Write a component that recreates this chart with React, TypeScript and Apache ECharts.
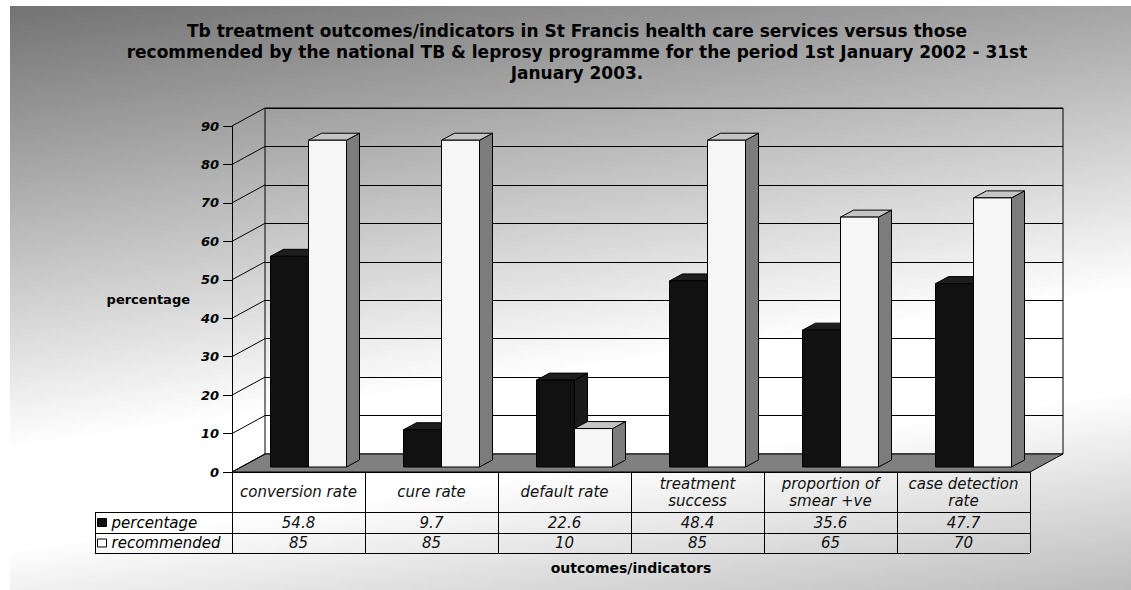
import React, { useEffect, useRef } from "react";
import * as echarts from "echarts";

// ---------- data ----------
const titleLines = [
  "Tb treatment outcomes/indicators in St Francis health care services versus those",
  "recommended by the national TB & leprosy programme for the period 1st January 2002 - 31st",
  "January 2003.",
];
const categories = [
  "conversion rate",
  "cure rate",
  "default rate",
  "treatment\nsuccess",
  "proportion of\nsmear +ve",
  "case detection\nrate",
];
const seriesNames = ["percentage", "recommended"];
const percentage = [54.8, 9.7, 22.6, 48.4, 35.6, 47.7];
const recommended = [85, 85, 10, 85, 65, 70];
const yTicks = [0, 10, 20, 30, 40, 50, 60, 70, 80, 90];
const yAxisTitle = "percentage";
const xAxisTitle = "outcomes/indicators";

// ---------- layout / style ----------
const FONT = "DejaVu Sans";
const W = 1131;
const H = 590;
const FRONT = { left: 232, right: 1030, top: 126, bottom: 472 };
const WALL = { dx: 33, dy: -18 };
const BAR_PLANE = { dx: 10, dy: -5 };
const BAR_DEPTH = { dx: 13, dy: -7 };
const BAR_FRAC = 38 / 133;
const ROWS = [472, 512, 533, 553];
const LEGEND_LEFT = 95;

const BAR_COLORS = [
  { front: "#111111", top: "#1e1e1e", side: "#1a1a1a" },
  { front: "#f6f6f6", top: "#c4c4c4", side: "#7c7c7c" },
];

function frameRender(params: any, api: any) {
  const v = api.value(1);
  const p = api.coord([0, v]);
  const band = api.size([1, 0])[0];
  const x0 = p[0] - band / 2;
  const children: any[] = [];
  if (v === yTicks[0]) {
    const pr = api.coord([categories.length - 1, v]);
    const x1 = pr[0] + band / 2;
    children.push({
      type: "polygon",
      shape: {
        points: [
          [x0, p[1]],
          [x1, p[1]],
          [x1 + WALL.dx, p[1] + WALL.dy],
          [x0 + WALL.dx, p[1] + WALL.dy],
        ],
      },
      style: { fill: "#808080", stroke: "#000", lineWidth: 1 },
    });
  }
  children.push({
    type: "line",
    shape: { x1: x0, y1: p[1], x2: x0 + WALL.dx, y2: p[1] + WALL.dy },
    style: { stroke: "#000", lineWidth: 1 },
  });
  return { type: "group", children };
}

function barRender(sideIdx: number) {
  const c = BAR_COLORS[sideIdx];
  return (params: any, api: any) => {
    const i = api.value(0);
    const v = api.value(1);
    const base = api.coord([i, 0]);
    const top = api.coord([i, v]);
    const band = api.size([1, 0])[0];
    const bw = band * BAR_FRAC;
    const cx = base[0] + BAR_PLANE.dx;
    const yb = base[1] + BAR_PLANE.dy;
    const yt = top[1] + BAR_PLANE.dy;
    const xl = sideIdx === 0 ? cx - bw : cx;
    const xr = xl + bw;
    const dx = BAR_DEPTH.dx;
    const dy = BAR_DEPTH.dy;
    return {
      type: "group",
      children: [
        {
          type: "polygon",
          shape: { points: [[xr, yt], [xr + dx, yt + dy], [xr + dx, yb + dy], [xr, yb]] },
          style: { fill: c.side, stroke: "#000", lineWidth: 1 },
        },
        {
          type: "polygon",
          shape: { points: [[xl, yt], [xr, yt], [xr + dx, yt + dy], [xl + dx, yt + dy]] },
          style: { fill: c.top, stroke: "#000", lineWidth: 1 },
        },
        {
          type: "rect",
          shape: { x: xl, y: yt, width: bw, height: yb - yt },
          style: { fill: c.front, stroke: "#000", lineWidth: 1 },
        },
      ],
    };
  };
}

export default function App() {
  const ref = useRef<HTMLDivElement>(null);
  useEffect(() => {
    document.body.style.margin = "0";
    const chart = echarts.init(ref.current!, null, { renderer: "svg" });
    const labelBase = { fontFamily: FONT, fontStyle: "italic", fontSize: 15, color: "#111" };
    const tableLines: any[] = [];
    [1, 2, 3].forEach((r) => {
      tableLines.push({
        type: "line",
        silent: true,
        z: 5,
        shape: { x1: LEGEND_LEFT, y1: ROWS[r] + 0.5, x2: FRONT.right, y2: ROWS[r] + 0.5 },
        style: { stroke: "#000", lineWidth: 1 },
      });
    });
    tableLines.push({
      type: "line",
      silent: true,
      z: 5,
      shape: { x1: LEGEND_LEFT + 0.5, y1: ROWS[1], x2: LEGEND_LEFT + 0.5, y2: ROWS[3] },
      style: { stroke: "#000", lineWidth: 1 },
    });

    const option: any = {
      animation: false,
      title: {
        text: titleLines.join("\n"),
        left: 577,
        top: 20,
        textAlign: "center",
        padding: 0,
        textStyle: { fontFamily: FONT, fontWeight: "bold", fontSize: 17, lineHeight: 21, color: "#000" },
      },
      legend: {
        orient: "vertical",
        left: 97,
        top: 515,
        padding: 0,
        itemWidth: 9,
        itemHeight: 8,
        itemGap: 5.5,
        selectedMode: false,
        data: [
          { name: seriesNames[0], icon: "rect", itemStyle: { color: "#111", borderColor: "#000", borderWidth: 1 } },
          { name: seriesNames[1], icon: "rect", itemStyle: { color: "#fff", borderColor: "#000", borderWidth: 1 } },
        ],
        textStyle: { fontFamily: FONT, fontStyle: "italic", fontSize: 15, lineHeight: 15, color: "#000" },
      },
      graphic: [
        {
          type: "rect",
          z: -100,
          silent: true,
          shape: { x: 10, y: 6, width: W - 10, height: H - 6 },
          style: {
            fill: new echarts.graphic.LinearGradient(0, 0, 0.427, 1.573, [
              { offset: 0, color: "#737373" },
              { offset: 0.45, color: "#ffffff" },
              { offset: 0.55, color: "#ffffff" },
              { offset: 1, color: "#6a6a6a" },
            ]),
          },
        },
        ...tableLines,
      ],
      grid: [
        {
          left: FRONT.left,
          top: FRONT.top,
          width: FRONT.right - FRONT.left,
          height: FRONT.bottom - FRONT.top,
        },
        {
          left: FRONT.left + WALL.dx,
          top: FRONT.top + WALL.dy,
          width: FRONT.right - FRONT.left,
          height: FRONT.bottom - FRONT.top,
          show: true,
          borderColor: "#000",
          borderWidth: 1,
          backgroundColor: "transparent",
        },
      ],
      xAxis: [
        {
          gridIndex: 0,
          type: "category",
          data: categories,
          position: "bottom",
          axisLine: { show: true, onZero: false, lineStyle: { color: "#000", width: 1 } },
          axisTick: { show: true, interval: 0, length: ROWS[3] - ROWS[0], lineStyle: { color: "#000", width: 1 } },
          axisLabel: { ...labelBase, interval: 0, margin: 20, verticalAlign: "middle", lineHeight: 17 },
          splitLine: { show: false },
          name: xAxisTitle,
          nameLocation: "middle",
          nameGap: 96,
          nameTextStyle: { fontFamily: FONT, fontWeight: "bold", fontSize: 14, color: "#000", verticalAlign: "middle" },
        },
        {
          gridIndex: 0,
          type: "category",
          data: categories,
          position: "bottom",
          offset: ROWS[1] - ROWS[0],
          axisLine: { show: false, onZero: false },
          axisTick: { show: false },
          axisLabel: {
            ...labelBase,
            interval: 0,
            margin: (ROWS[2] - ROWS[1]) / 2,
            verticalAlign: "middle",
            formatter: (_v: string, i: number) => String(percentage[i]),
          },
        },
        {
          gridIndex: 0,
          type: "category",
          data: categories,
          position: "bottom",
          offset: ROWS[2] - ROWS[0],
          axisLine: { show: false, onZero: false },
          axisTick: { show: false },
          axisLabel: {
            ...labelBase,
            interval: 0,
            margin: (ROWS[3] - ROWS[2]) / 2,
            verticalAlign: "middle",
            formatter: (_v: string, i: number) => String(recommended[i]),
          },
        },
        { gridIndex: 1, type: "category", data: categories, show: false },
      ],
      yAxis: [
        {
          gridIndex: 0,
          type: "value",
          min: yTicks[0],
          max: yTicks[yTicks.length - 1],
          interval: yTicks[1] - yTicks[0],
          axisLine: { show: true, onZero: false, lineStyle: { color: "#000", width: 1 } },
          axisTick: { show: true, length: 9, lineStyle: { color: "#000", width: 1 } },
          axisLabel: { margin: 13, color: "#000", fontFamily: FONT, fontWeight: "bold", fontStyle: "italic", fontSize: 13 },
          splitLine: { show: false },
          name: yAxisTitle,
          nameLocation: "middle",
          nameRotate: 0,
          nameGap: 42,
          nameTextStyle: { fontFamily: FONT, fontWeight: "bold", fontSize: 13, color: "#000" },
        },
        {
          gridIndex: 1,
          type: "value",
          min: yTicks[0],
          max: yTicks[yTicks.length - 1],
          interval: yTicks[1] - yTicks[0],
          axisLine: { show: false },
          axisTick: { show: false },
          axisLabel: { show: false },
          splitLine: { show: true, lineStyle: { color: "#000", width: 1 } },
        },
      ],
      series: [
        {
          type: "custom",
          name: "frame",
          xAxisIndex: 0,
          yAxisIndex: 0,
          z: 1,
          silent: true,
          encode: { x: 0, y: 1 },
          data: yTicks.map((v) => [0, v]),
          renderItem: frameRender,
        },
        {
          type: "custom",
          name: seriesNames[0],
          xAxisIndex: 0,
          yAxisIndex: 0,
          z: 2,
          encode: { x: 0, y: 1 },
          itemStyle: { color: "#111" },
          data: percentage.map((v, i) => [i, v]),
          renderItem: barRender(0),
        },
        {
          type: "custom",
          name: seriesNames[1],
          xAxisIndex: 0,
          yAxisIndex: 0,
          z: 3,
          encode: { x: 0, y: 1 },
          itemStyle: { color: "#fff" },
          data: recommended.map((v, i) => [i, v]),
          renderItem: barRender(1),
        },
      ],
    };
    chart.setOption(option);
    return () => chart.dispose();
  }, []);
  return <div ref={ref} style={{ width: W, height: H }} />;
}
